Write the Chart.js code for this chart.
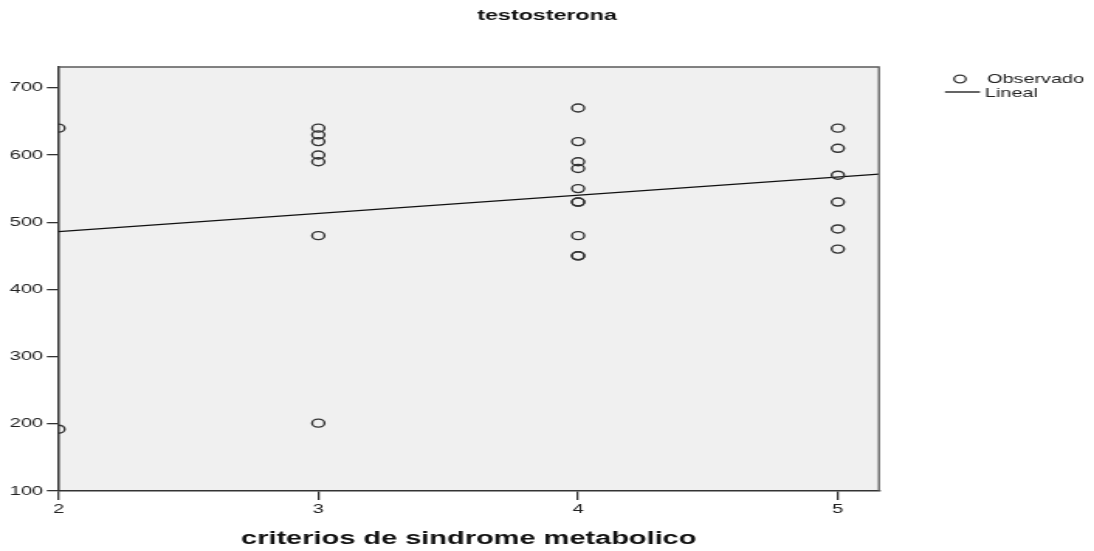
<!DOCTYPE html>
<html>
<head>
<meta charset="utf-8">
<script src="https://cdn.jsdelivr.net/npm/chart.js@4.4.1/dist/chart.umd.min.js"></script>
<style>
  html, body { margin: 0; padding: 0; background: #ffffff; overflow: hidden; }
  #wrap { width: 706px; height: 551px; transform: scaleX(1.5496); transform-origin: 0 0; }
  canvas { display: block; }
</style>
</head>
<body>
<div id="wrap"><canvas id="c" width="706" height="551"></canvas></div>
<script>
// Observed testosterone values per number of metabolic-syndrome criteria
const criterios = [2, 2,
  3, 3, 3, 3, 3, 3, 3,
  4, 4, 4, 4, 4, 4, 4, 4, 4, 4,
  5, 5, 5, 5, 5, 5];
const testosterona = [640, 192,
  640, 630, 620, 600, 590, 480, 201,
  670, 620, 590, 580, 550, 530, 530, 480, 450, 450,
  640, 610, 570, 530, 490, 460];

// Linear fit, evaluated at the ends of the x range
const ajusteX = [2, 5.158];
const ajusteY = [486, 571.5];

const xTicks = [2, 3, 4, 5];
const yTicks = [100, 200, 300, 400, 500, 600, 700];

const FONT = "'Liberation Sans', Arial, sans-serif";

const plotBg = {
  id: 'plotBg',
  beforeDraw(chart) {
    const { ctx, chartArea: a } = chart;
    ctx.save();
    ctx.fillStyle = '#f0f0f0';
    ctx.fillRect(a.left, a.top, a.right - a.left, a.bottom - a.top);
    ctx.restore();
  },
  afterDraw(chart) {
    const { ctx, chartArea: a } = chart;
    ctx.save();
    ctx.strokeStyle = '#5a5a5a';
    ctx.lineWidth = 1.3;
    ctx.beginPath();
    ctx.moveTo(a.left, a.top);
    ctx.lineTo(a.right, a.top);
    ctx.lineTo(a.right, a.bottom);
    ctx.stroke();
    ctx.restore();
  }
};

// Legend drawn in the right margin
const sideLegend = {
  id: 'sideLegend',
  afterDraw(chart) {
    const { ctx } = chart;
    const ds = chart.data.datasets;
    ctx.save();
    ctx.font = '12.8px ' + FONT;
    ctx.fillStyle = '#222';
    ctx.textBaseline = 'middle';
    ctx.textAlign = 'left';
    // observed points
    ctx.strokeStyle = '#333';
    ctx.lineWidth = 1.3;
    ctx.beginPath();
    ctx.arc(619.5, 79, 3.8, 0, Math.PI * 2);
    ctx.stroke();
    ctx.fillText(ds[0].label, 637, 79);
    // fitted line
    ctx.strokeStyle = '#111';
    ctx.lineWidth = 1.3;
    ctx.beginPath();
    ctx.moveTo(609.8, 92);
    ctx.lineTo(632.4, 92);
    ctx.stroke();
    ctx.fillText(ds[1].label, 635.6, 93);
    ctx.restore();
  }
};

new Chart(document.getElementById('c'), {
  type: 'scatter',
  data: {
    datasets: [
      {
        label: 'Observado',
        data: criterios.map((x, i) => ({ x: x, y: testosterona[i] })),
        pointStyle: 'circle',
        pointRadius: 4,
        pointHoverRadius: 4,
        borderWidth: 1.4,
        borderColor: '#333333',
        backgroundColor: 'rgba(0,0,0,0)',
        clip: 0
      },
      {
        label: 'Lineal',
        type: 'line',
        data: ajusteX.map((x, i) => ({ x: x, y: ajusteY[i] })),
        showLine: true,
        pointRadius: 0,
        borderColor: '#111111',
        borderWidth: 1.3,
        fill: false,
        clip: 0
      }
    ]
  },
  options: {
    responsive: false,
    animation: false,
    events: [],
    layout: { padding: 0 },
    plugins: {
      legend: { display: false },
      tooltip: { enabled: false },
      title: {
        display: true,
        text: 'testosterona',
        color: '#111',
        font: { family: FONT, size: 15, weight: 'bold', lineHeight: 1.2 },
        padding: { top: 7, bottom: 42 }
      }
    },
    scales: {
      x: {
        type: 'linear',
        min: 2,
        max: 5.158,
        afterFit(scale) { scale.height = 60; },
        afterBuildTicks(scale) { scale.ticks = xTicks.map(v => ({ value: v })); },
        grid: { drawOnChartArea: false, drawTicks: true, tickLength: 9, color: '#333', lineWidth: 1.3 },
        border: { display: true, color: '#333', width: 1.5 },
        ticks: { color: '#222', font: { family: FONT, size: 13 }, padding: 2, maxRotation: 0 },
        title: {
          display: true,
          text: 'criterios de sindrome metabolico',
          color: '#111',
          font: { family: FONT, size: 18.7, weight: 'bold', lineHeight: 1.2 },
          padding: { top: 4, bottom: 0.8 }
        }
      },
      y: {
        type: 'linear',
        min: 100,
        max: 731,
        afterFit(scale) { scale.width = 37.75; },
        afterBuildTicks(scale) { scale.ticks = yTicks.map(v => ({ value: v })); },
        grid: { drawOnChartArea: false, drawTicks: true, tickLength: 7.5, color: '#333', lineWidth: 1.3 },
        border: { display: true, color: '#333', width: 1.5 },
        ticks: { color: '#222', font: { family: FONT, size: 13 }, padding: 2.4 }
      },
      // empty right-hand axis that reserves the margin holding the legend
      margen: {
        type: 'linear',
        position: 'right',
        min: 100,
        max: 731,
        afterFit(scale) { scale.width = 138.8; },
        grid: { display: false },
        border: { display: false },
        ticks: { display: false }
      }
    }
  },
  plugins: [plotBg, sideLegend]
});
</script>
</body>
</html>
